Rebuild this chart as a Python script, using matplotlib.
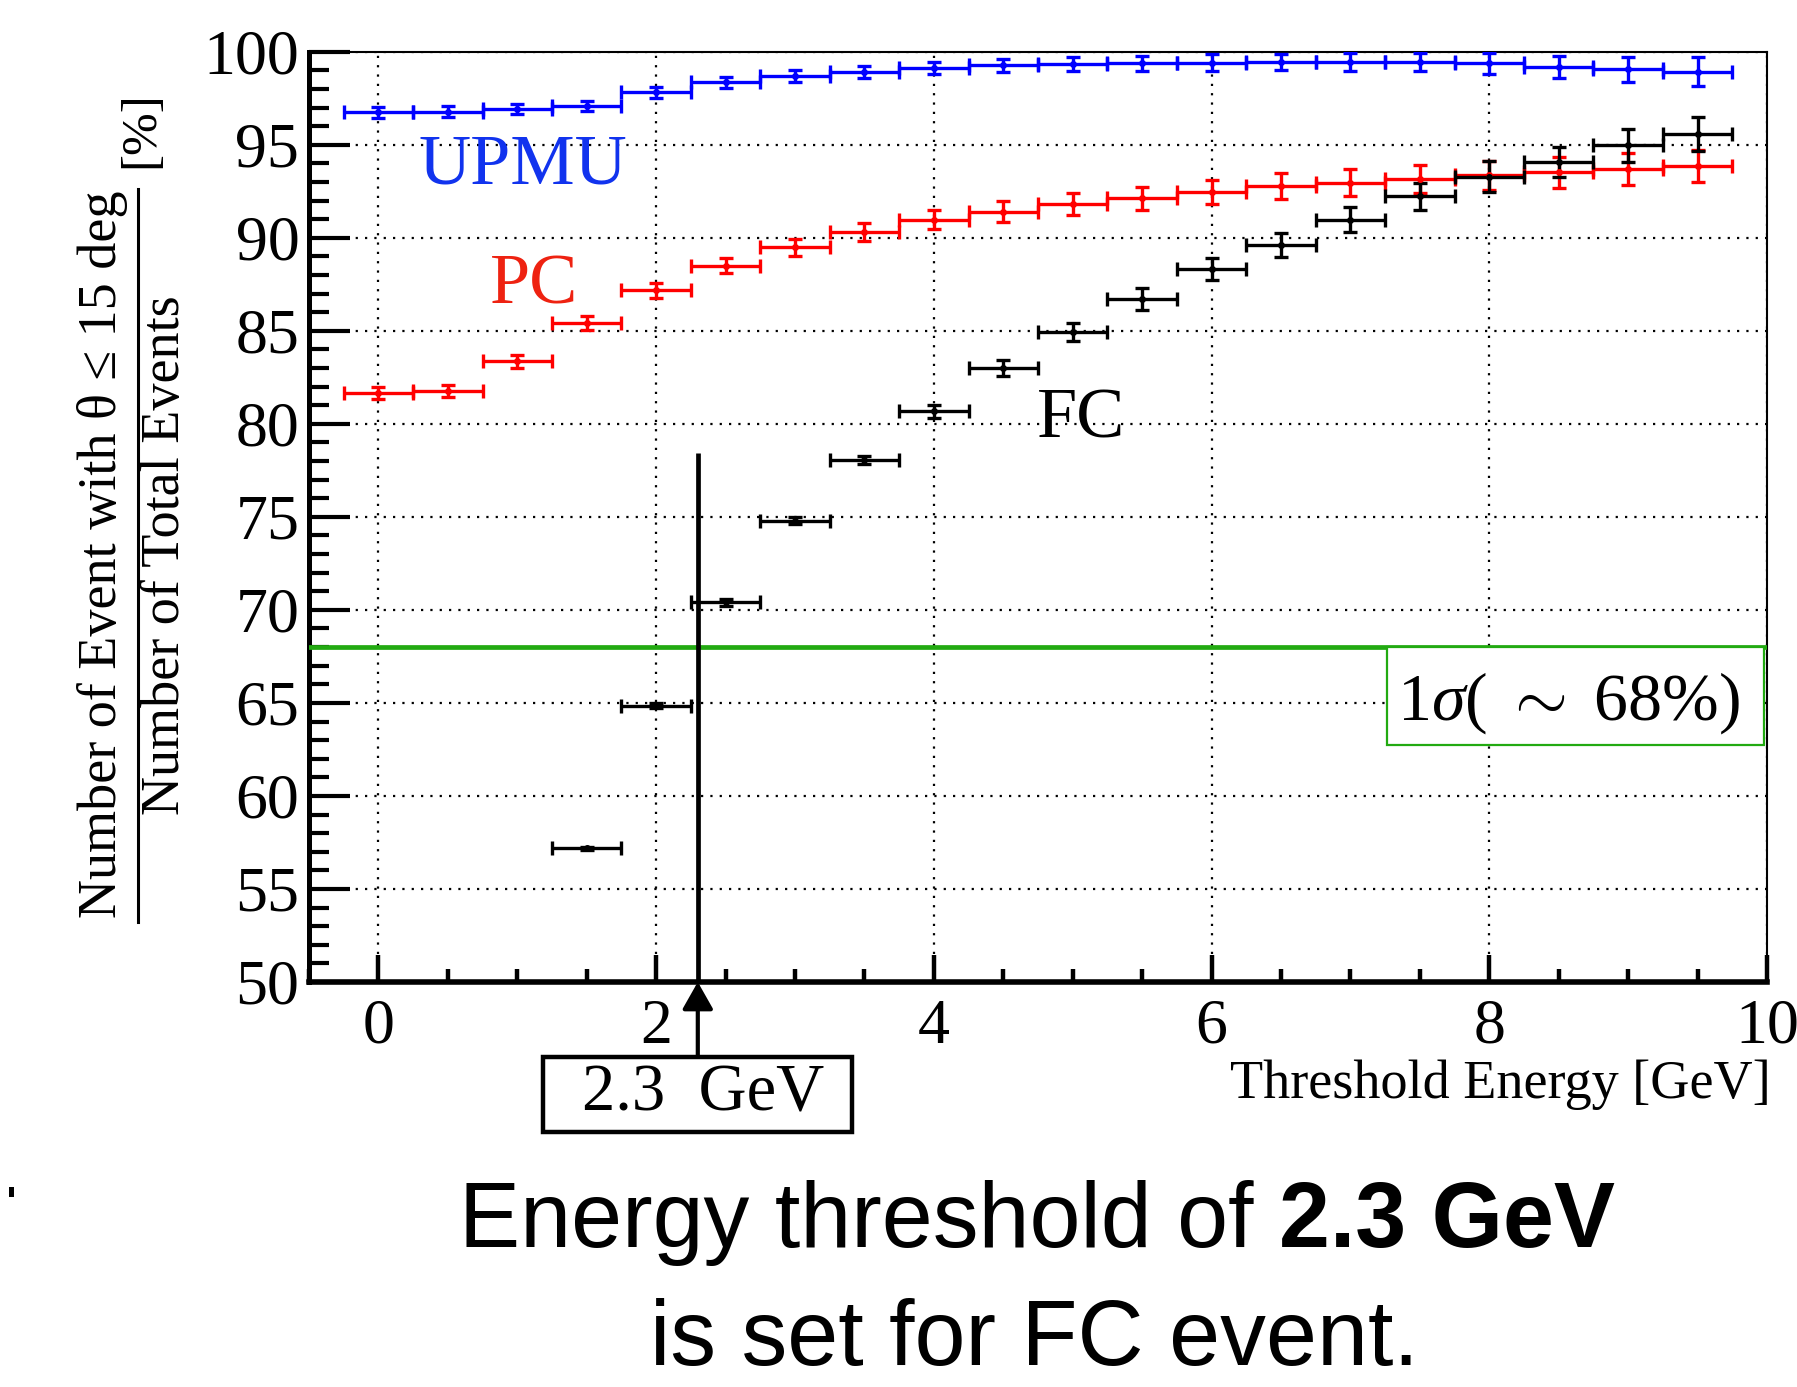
import matplotlib
matplotlib.use("Agg")
import matplotlib.pyplot as plt
from matplotlib.patches import Rectangle
from matplotlib.ticker import MultipleLocator

plt.rcParams['font.family'] = ['Liberation Serif', 'DejaVu Serif']
plt.rcParams['mathtext.fontset'] = 'custom'
plt.rcParams['mathtext.rm'] = 'Liberation Serif'
plt.rcParams['mathtext.it'] = 'Liberation Serif:italic'

# ---------------- data ----------------
thr = [0.0, 0.5, 1.0, 1.5, 2.0, 2.5, 3.0, 3.5, 4.0, 4.5,
       5.0, 5.5, 6.0, 6.5, 7.0, 7.5, 8.0, 8.5, 9.0, 9.5]
bin_half = 0.25

upmu = [96.74, 96.78, 96.92, 97.08, 97.82, 98.35, 98.69, 98.93, 99.12, 99.27,
        99.32, 99.37, 99.41, 99.45, 99.45, 99.45, 99.37, 99.18, 99.05, 98.93]
upmu_err = [0.28, 0.28, 0.28, 0.28, 0.30, 0.30, 0.30, 0.32, 0.34, 0.36,
            0.38, 0.40, 0.45, 0.45, 0.50, 0.50, 0.55, 0.60, 0.68, 0.78]

pc = [81.66, 81.75, 83.36, 85.42, 87.17, 88.50, 89.48, 90.30, 90.97, 91.40,
      91.81, 92.13, 92.45, 92.79, 92.95, 93.17, 93.35, 93.52, 93.70, 93.86]
pc_err = [0.33, 0.33, 0.35, 0.36, 0.40, 0.42, 0.45, 0.48, 0.52, 0.55,
          0.58, 0.62, 0.66, 0.70, 0.72, 0.75, 0.79, 0.82, 0.84, 0.86]

fc_thr = [1.5, 2.0, 2.5, 3.0, 3.5, 4.0, 4.5, 5.0, 5.5, 6.0,
          6.5, 7.0, 7.5, 8.0, 8.5, 9.0, 9.5]
fc = [57.18, 64.86, 70.41, 74.79, 78.07, 80.68, 83.00, 84.94, 86.71, 88.32,
      89.62, 90.97, 92.22, 93.29, 94.06, 94.96, 95.58]
fc_err = [0.10, 0.15, 0.18, 0.20, 0.22, 0.35, 0.43, 0.49, 0.57, 0.60,
          0.65, 0.67, 0.75, 0.81, 0.82, 0.87, 0.90]

one_sigma = 68.0
threshold = 2.3
threshold_line_top = 78.45

xticks = [0, 2, 4, 6, 8, 10]
yticks = [50, 55, 60, 65, 70, 75, 80, 85, 90, 95, 100]

# ---------------- figure ----------------
W, H = 1797, 1387
fig = plt.figure(figsize=(W / 100, H / 100), dpi=100)
ax = fig.add_axes([309 / W, 1 - 982 / H, (1767 - 309) / W, (982 - 51.7) / H])
ax.set_xlim(-0.5, 10)
ax.set_ylim(50, 100)

ax.set_xticks(xticks)
ax.set_yticks(yticks)
ax.xaxis.set_minor_locator(MultipleLocator(0.5))
ax.yaxis.set_minor_locator(MultipleLocator(1))
ax.tick_params(axis='y', which='major', direction='in', length=29.5, width=3.0,
               labelsize=46, pad=7, right=False)
ax.tick_params(axis='y', which='minor', direction='in', length=14.4, width=3.0,
               right=False)
ax.tick_params(axis='x', which='major', direction='in', length=19.5, width=3.2,
               labelsize=46, pad=12, top=False)
ax.tick_params(axis='x', which='minor', direction='in', length=9.4, width=3.2,
               top=False)

ax.spines['left'].set_linewidth(3.6)
ax.spines['bottom'].set_linewidth(4.0)
ax.spines['top'].set_linewidth(1.5)
ax.spines['right'].set_linewidth(1.5)

ax.grid(True, which='major', color='black', linestyle=(0, (1, 3.2)), linewidth=1.6)
ax.set_axisbelow(True)

ekw = dict(fmt='o', markersize=4, capsize=5, elinewidth=2.4, capthick=2.4, zorder=5)
ax.errorbar(thr, upmu, xerr=bin_half, yerr=upmu_err, color='#0000ff', **ekw)
ax.errorbar(thr, pc, xerr=bin_half, yerr=pc_err, color='#ff0000', **ekw)
ax.errorbar(fc_thr, fc, xerr=bin_half, yerr=fc_err, color='black', **ekw)

ax.text(1.04, 92.92, 'UPMU', color='#1133ee', fontsize=52, ha='center', va='baseline')
ax.text(1.12, 86.45, 'PC', color='#ee2211', fontsize=52, ha='center', va='baseline')
ax.text(5.06, 79.25, 'FC', color='black', fontsize=52, ha='center', va='baseline', zorder=6)

# 1 sigma line and box
ax.axhline(one_sigma, color='#22aa11', linewidth=3.4, zorder=4)
ax.add_patch(Rectangle((7.26, 62.75), 9.98 - 7.26, one_sigma - 62.75,
                       facecolor='white', edgecolor='#22aa11', linewidth=1.6, zorder=4))
ax.text(8.57, 64.1, r'1$\sigma$( $\sim$ 68%)', fontsize=49, ha='center', va='baseline',
        zorder=6)

# threshold line + arrow
ax.plot([threshold, threshold], [50, threshold_line_top], color='black', linewidth=3.4,
        zorder=6, solid_capstyle='butt')
box_top = 1 - 1057 / H
ax.annotate('', xy=(threshold, 50), xycoords='data',
            xytext=(threshold, box_top), textcoords=('data', 'figure fraction'),
            arrowprops=dict(arrowstyle='-|>,head_length=0.83,head_width=0.47',
                            mutation_scale=20, lw=3.0, color='black',
                            shrinkA=0, shrinkB=0),
            annotation_clip=False)
fig.patches.append(Rectangle((543 / W, 1 - 1132 / H), (852 - 543) / W, (1132 - 1057) / H,
                             transform=fig.transFigure, facecolor='white',
                             edgecolor='black', linewidth=3.2, zorder=3))
fig.text(703 / W, 1 - 1094.5 / H, '2.3  GeV', fontsize=48, ha='center', va='center', zorder=4)

# axis labels
fig.text(1771 / W, 1 - 1098 / H, 'Threshold Energy [GeV]', fontsize=39,
         ha='right', va='baseline')
fig.text(103 / W, 1 - 554 / H, 'Number of Event with θ ≤ 15 deg', fontsize=39,
         rotation=90, ha='center', va='center')
fig.text(166 / W, 1 - 555 / H, 'Number of Total Events', fontsize=39,
         rotation=90, ha='center', va='center')
fig.lines.append(plt.Line2D([137.5 / W, 137.5 / W], [1 - 189 / H, 1 - 922 / H],
                            transform=fig.transFigure, color='black', linewidth=2.2))
fig.text(141 / W, 1 - 130 / H, '[%]', fontsize=37, rotation=90, ha='center', va='center')

# bottom caption
r = fig.canvas.get_renderer()
sans = ['Liberation Sans', 'DejaVu Sans']
t1 = fig.text(0, 0, 'Energy threshold of ', fontsize=66, family=sans)
t2 = fig.text(0, 0, '2.3 GeV', fontsize=66, family=sans, fontweight='bold')
w1 = t1.get_window_extent(r).width
w2 = t2.get_window_extent(r).width
cx = 1037
x0 = cx - (w1 + w2) / 2
base1 = 1 - 1247 / H
t1.set_position((x0 / W, base1))
t1.set_va('baseline')
t2.set_position(((x0 + w1) / W, base1))
t2.set_va('baseline')
fig.text(1034 / W, 1 - 1365 / H, 'is set for FC event.', fontsize=66, family=sans,
         ha='center', va='baseline')

fig.patches.append(Rectangle((9 / W, 1 - 1197 / H), 5 / W, 10 / H,
                             transform=fig.transFigure, facecolor='black',
                             edgecolor='none'))

fig.savefig('out.png', dpi=100)
